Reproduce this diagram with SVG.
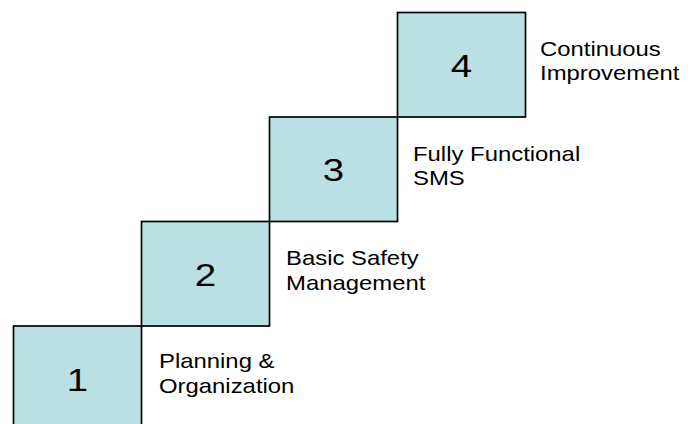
<svg xmlns="http://www.w3.org/2000/svg" width="688" height="424" viewBox="0 0 688 424">
<style>
.box{fill:#BBE0E3;stroke:#000;stroke-width:1.7}
.num{font-family:"Liberation Sans",Arial,sans-serif;font-size:32px;fill:#000;text-anchor:middle}
.lbl{font-family:"Liberation Sans",Arial,sans-serif;font-size:20.5px;fill:#000}
</style>
<rect width="688" height="424" fill="#fff"/>
<g id="step1">
<rect class="box" x="13.5" y="326" width="128" height="110"/>
<text class="num" transform="translate(77.5,391) scale(1.2,1)">1</text>
<text class="lbl" transform="translate(159,368) scale(1.165,1)">Planning &amp;</text>
<text class="lbl" transform="translate(159,392.5) scale(1.165,1)">Organization</text>
</g>
<g id="step2">
<rect class="box" x="141.5" y="221.5" width="128" height="104.5"/>
<text class="num" transform="translate(205.5,285.5) scale(1.2,1)">2</text>
<text class="lbl" transform="translate(286,265) scale(1.165,1)">Basic Safety</text>
<text class="lbl" transform="translate(286,289.5) scale(1.165,1)">Management</text>
</g>
<g id="step3">
<rect class="box" x="269.5" y="117" width="128" height="104.5"/>
<text class="num" transform="translate(333.5,181) scale(1.2,1)">3</text>
<text class="lbl" transform="translate(413,160.5) scale(1.165,1)">Fully Functional</text>
<text class="lbl" transform="translate(413,185) scale(1.165,1)">SMS</text>
</g>
<g id="step4">
<rect class="box" x="397.5" y="12.5" width="128" height="104.5"/>
<text class="num" transform="translate(461.5,76.5) scale(1.2,1)">4</text>
<text class="lbl" transform="translate(540,55.5) scale(1.165,1)">Continuous</text>
<text class="lbl" transform="translate(540,80) scale(1.165,1)">Improvement</text>
</g>
</svg>
